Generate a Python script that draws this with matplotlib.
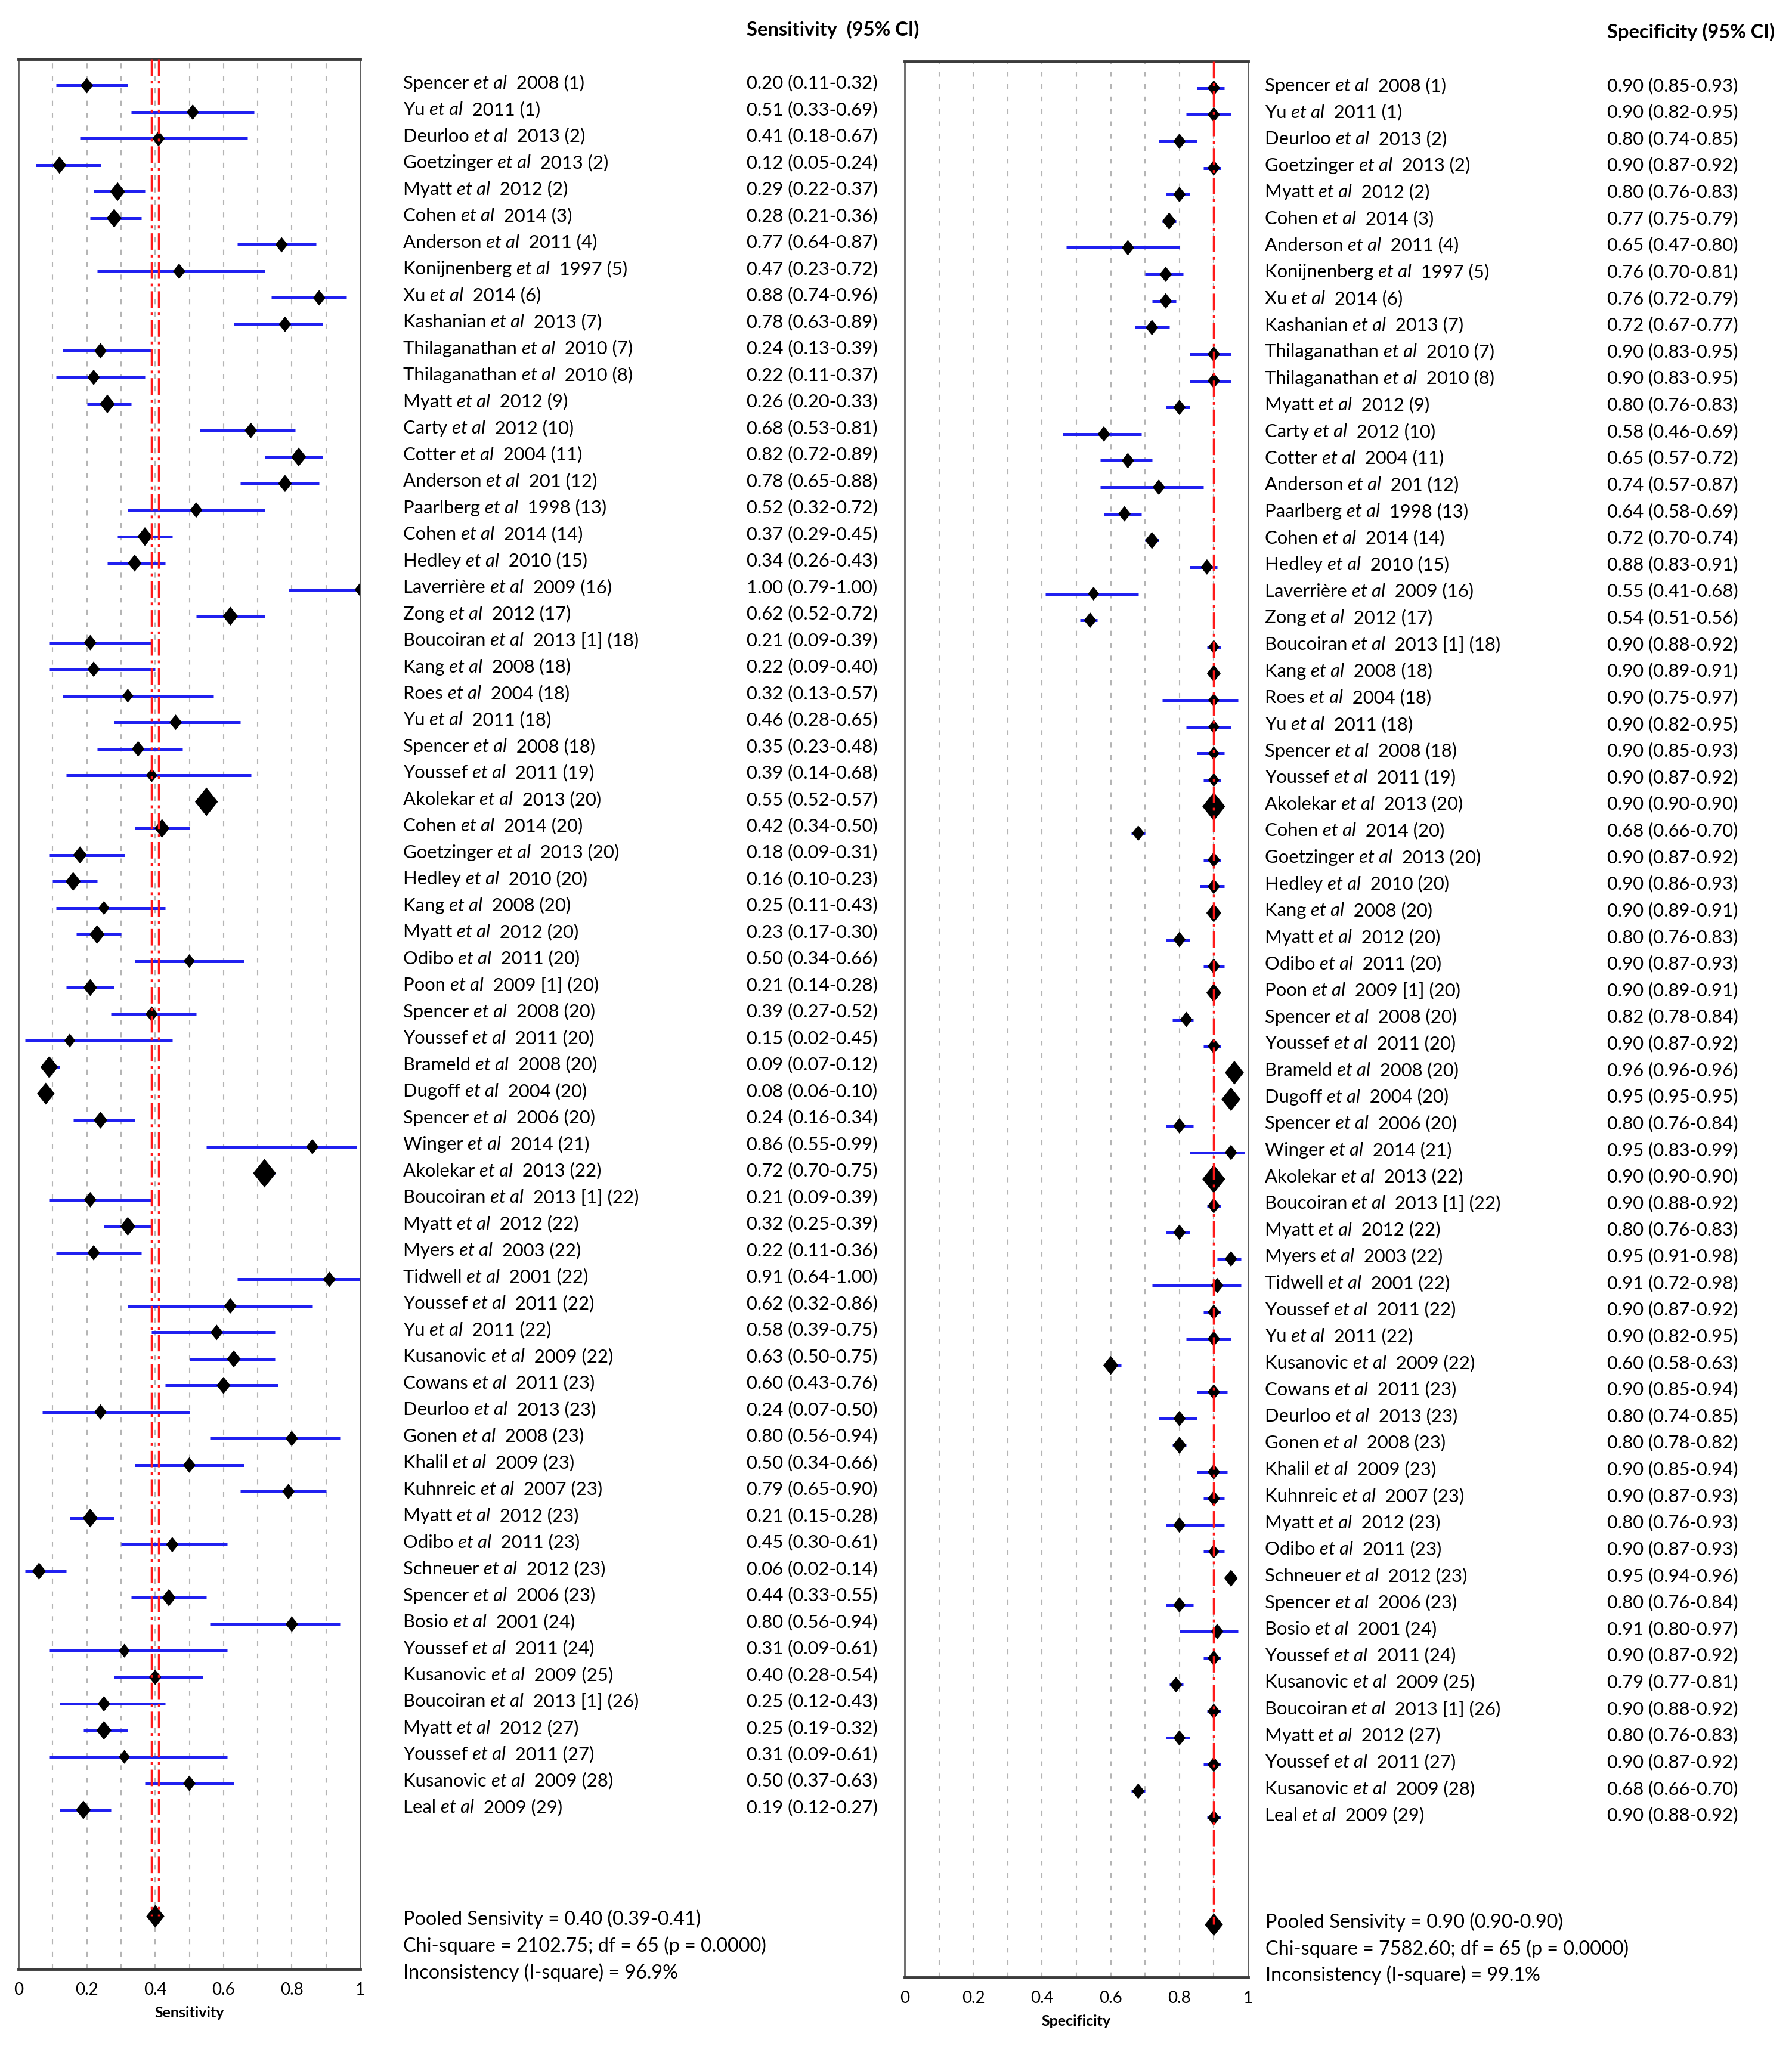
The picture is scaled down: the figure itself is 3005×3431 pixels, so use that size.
import numpy as np
import matplotlib
matplotlib.use("Agg")
import matplotlib.pyplot as plt
from matplotlib import transforms

plt.rcParams['font.family'] = ['Lato', 'DejaVu Sans']

# study labels: author (before "et al") and the rest (year, reference)
authors = ["Spencer", "Yu", "Deurloo", "Goetzinger", "Myatt", "Cohen", "Anderson", "Konijnenberg",
           "Xu", "Kashanian", "Thilaganathan", "Thilaganathan", "Myatt", "Carty", "Cotter", "Anderson",
           "Paarlberg", "Cohen", "Hedley", "Laverrière", "Zong", "Boucoiran", "Kang", "Roes", "Yu",
           "Spencer", "Youssef", "Akolekar", "Cohen", "Goetzinger", "Hedley", "Kang", "Myatt", "Odibo",
           "Poon", "Spencer", "Youssef", "Brameld", "Dugoff", "Spencer", "Winger", "Akolekar",
           "Boucoiran", "Myatt", "Myers", "Tidwell", "Youssef", "Yu", "Kusanovic", "Cowans", "Deurloo",
           "Gonen", "Khalil", "Kuhnreic", "Myatt", "Odibo", "Schneuer", "Spencer", "Bosio", "Youssef",
           "Kusanovic", "Boucoiran", "Myatt", "Youssef", "Kusanovic", "Leal"]
refs = ["2008 (1)", "2011 (1)", "2013 (2)", "2013 (2)", "2012 (2)", "2014 (3)", "2011 (4)", "1997 (5)",
        "2014 (6)", "2013 (7)", "2010 (7)", "2010 (8)", "2012 (9)", "2012 (10)", "2004 (11)", "201 (12)",
        "1998 (13)", "2014 (14)", "2010 (15)", "2009 (16)", "2012 (17)", "2013 [1] (18)", "2008 (18)",
        "2004 (18)", "2011 (18)", "2008 (18)", "2011 (19)", "2013 (20)", "2014 (20)", "2013 (20)",
        "2010 (20)", "2008 (20)", "2012 (20)", "2011 (20)", "2009 [1] (20)", "2008 (20)", "2011 (20)",
        "2008 (20)", "2004 (20)", "2006 (20)", "2014 (21)", "2013 (22)", "2013 [1] (22)", "2012 (22)",
        "2003 (22)", "2001 (22)", "2011 (22)", "2011 (22)", "2009 (22)", "2011 (23)", "2013 (23)",
        "2008 (23)", "2009 (23)", "2007 (23)", "2012 (23)", "2011 (23)", "2012 (23)", "2006 (23)",
        "2001 (24)", "2011 (24)", "2009 (25)", "2013 [1] (26)", "2012 (27)", "2011 (27)", "2009 (28)",
        "2009 (29)"]

sens = [0.20, 0.51, 0.41, 0.12, 0.29, 0.28, 0.77, 0.47, 0.88, 0.78, 0.24, 0.22, 0.26, 0.68, 0.82, 0.78,
        0.52, 0.37, 0.34, 1.00, 0.62, 0.21, 0.22, 0.32, 0.46, 0.35, 0.39, 0.55, 0.42, 0.18, 0.16, 0.25,
        0.23, 0.50, 0.21, 0.39, 0.15, 0.09, 0.08, 0.24, 0.86, 0.72, 0.21, 0.32, 0.22, 0.91, 0.62, 0.58,
        0.63, 0.60, 0.24, 0.80, 0.50, 0.79, 0.21, 0.45, 0.06, 0.44, 0.80, 0.31, 0.40, 0.25, 0.25, 0.31,
        0.50, 0.19]
sens_lo = [0.11, 0.33, 0.18, 0.05, 0.22, 0.21, 0.64, 0.23, 0.74, 0.63, 0.13, 0.11, 0.20, 0.53, 0.72, 0.65,
           0.32, 0.29, 0.26, 0.79, 0.52, 0.09, 0.09, 0.13, 0.28, 0.23, 0.14, 0.52, 0.34, 0.09, 0.10, 0.11,
           0.17, 0.34, 0.14, 0.27, 0.02, 0.07, 0.06, 0.16, 0.55, 0.70, 0.09, 0.25, 0.11, 0.64, 0.32, 0.39,
           0.50, 0.43, 0.07, 0.56, 0.34, 0.65, 0.15, 0.30, 0.02, 0.33, 0.56, 0.09, 0.28, 0.12, 0.19, 0.09,
           0.37, 0.12]
sens_hi = [0.32, 0.69, 0.67, 0.24, 0.37, 0.36, 0.87, 0.72, 0.96, 0.89, 0.39, 0.37, 0.33, 0.81, 0.89, 0.88,
           0.72, 0.45, 0.43, 1.00, 0.72, 0.39, 0.40, 0.57, 0.65, 0.48, 0.68, 0.57, 0.50, 0.31, 0.23, 0.43,
           0.30, 0.66, 0.28, 0.52, 0.45, 0.12, 0.10, 0.34, 0.99, 0.75, 0.39, 0.39, 0.36, 1.00, 0.86, 0.75,
           0.75, 0.76, 0.50, 0.94, 0.66, 0.90, 0.28, 0.61, 0.14, 0.55, 0.94, 0.61, 0.54, 0.43, 0.32, 0.61,
           0.63, 0.27]

spec = [0.90, 0.90, 0.80, 0.90, 0.80, 0.77, 0.65, 0.76, 0.76, 0.72, 0.90, 0.90, 0.80, 0.58, 0.65, 0.74,
        0.64, 0.72, 0.88, 0.55, 0.54, 0.90, 0.90, 0.90, 0.90, 0.90, 0.90, 0.90, 0.68, 0.90, 0.90, 0.90,
        0.80, 0.90, 0.90, 0.82, 0.90, 0.96, 0.95, 0.80, 0.95, 0.90, 0.90, 0.80, 0.95, 0.91, 0.90, 0.90,
        0.60, 0.90, 0.80, 0.80, 0.90, 0.90, 0.80, 0.90, 0.95, 0.80, 0.91, 0.90, 0.79, 0.90, 0.80, 0.90,
        0.68, 0.90]
spec_lo = [0.85, 0.82, 0.74, 0.87, 0.76, 0.75, 0.47, 0.70, 0.72, 0.67, 0.83, 0.83, 0.76, 0.46, 0.57, 0.57,
           0.58, 0.70, 0.83, 0.41, 0.51, 0.88, 0.89, 0.75, 0.82, 0.85, 0.87, 0.90, 0.66, 0.87, 0.86, 0.89,
           0.76, 0.87, 0.89, 0.78, 0.87, 0.96, 0.95, 0.76, 0.83, 0.90, 0.88, 0.76, 0.91, 0.72, 0.87, 0.82,
           0.58, 0.85, 0.74, 0.78, 0.85, 0.87, 0.76, 0.87, 0.94, 0.76, 0.80, 0.87, 0.77, 0.88, 0.76, 0.87,
           0.66, 0.88]
spec_hi = [0.93, 0.95, 0.85, 0.92, 0.83, 0.79, 0.80, 0.81, 0.79, 0.77, 0.95, 0.95, 0.83, 0.69, 0.72, 0.87,
           0.69, 0.74, 0.91, 0.68, 0.56, 0.92, 0.91, 0.97, 0.95, 0.93, 0.92, 0.90, 0.70, 0.92, 0.93, 0.91,
           0.83, 0.93, 0.91, 0.84, 0.92, 0.96, 0.95, 0.84, 0.99, 0.90, 0.92, 0.83, 0.98, 0.98, 0.92, 0.95,
           0.63, 0.94, 0.85, 0.82, 0.94, 0.93, 0.93, 0.93, 0.96, 0.84, 0.97, 0.92, 0.81, 0.92, 0.83, 0.92,
           0.70, 0.92]

# relative study weights (marker size)
sens_w = [2, 2, 2, 2.5, 3, 3, 2, 2, 2, 2, 2, 2, 3, 2, 3, 2.5, 2, 3, 2.5, 1.5, 3, 2, 2, 1.5, 2, 2, 1.5, 6,
          3, 2.5, 3, 1.5, 3, 1.5, 2.5, 2, 1.5, 4, 4, 2.5, 2, 6, 2, 3, 2, 2, 2, 2, 2.5, 2.5, 2, 2, 2, 2, 3,
          2, 2.5, 2.5, 2, 1.5, 2, 2, 3, 1.5, 2, 3]
spec_w = [2, 2, 2, 2, 2, 2.5, 2, 2, 2, 2, 2, 2, 2, 2, 2, 2, 2, 2.5, 2, 1.5, 2, 1.5, 2.5, 1.5, 1.5, 1.5,
          1.5, 6, 2, 2, 2, 3, 2, 2, 3, 2, 2, 4.5, 4.5, 2, 2, 6, 2, 2, 2, 2, 2, 2, 3, 2, 2, 2.5, 2, 2, 2, 1.5,
          2.5, 2, 2, 2, 2, 2, 2, 2, 2, 2]

sens_pooled = (0.40, 0.39, 0.41)
spec_pooled = (0.90, 0.90, 0.90)
sens_stats = ["Chi-square = 2102.75; df = 65 (p = 0.0000)", "Inconsistency (I-square) = 96.9%"]
spec_stats = ["Chi-square = 7582.60; df = 65 (p = 0.0000)", "Inconsistency (I-square) = 99.1%"]

FS = 22.3
W, H = 3005, 3431
fig = plt.figure(figsize=(W / 100, H / 100), dpi=100)
renderer = fig.canvas.get_renderer()

ax1 = fig.add_axes([31 / W, 1 - 3302 / H, 573 / W, 3203 / H])
ax2 = fig.add_axes([1517 / W, 1 - 3316 / H, 576 / W, 3213 / H])

rows = np.arange(len(authors))
pooled_row = 69
diamond = [(0, 1), (0.8, 0), (0, -1), (-0.8, 0), (0, 1)]


def panel(ax, est, lo, hi, w, pooled, red_x, xlabel):
    for g in np.arange(0.1, 0.95, 0.1):
        ax.axvline(g, color='#b5b5b5', lw=1.5, ls=(0, (4, 6)), zorder=1)
    ax.hlines(rows, lo, hi, color='#2020f0', lw=3.6, zorder=2)
    ms = 15 + 5.5 * np.array(w)  # marker height in px
    ax.scatter(est, rows, marker=diamond, s=(ms * 0.72) ** 2, color='black', lw=0, zorder=3)
    ax.scatter([pooled[0]], [pooled_row], marker=diamond, s=(38 * 0.72) ** 2, color='black', lw=0, zorder=3)
    ax.vlines(red_x, -1, pooled_row, colors='#ff1a1a', lw=2.5, ls=(0, (8, 2.3, 1.4, 2.3)), zorder=4)
    ax.set_xlim(0, 1)
    ax.set_ylim(71, -1)
    ax.set_yticks([])
    ax.set_xticks([0, 0.2, 0.4, 0.6, 0.8, 1.0])
    ax.set_xticklabels(['0', '0.2', '0.4', '0.6', '0.8', '1'])
    ax.tick_params(axis='x', length=0, pad=16, labelsize=20)
    ax.set_xlabel(xlabel, fontsize=18, fontweight='bold', labelpad=10)
    for s in ['top', 'bottom']:
        ax.spines[s].set_linewidth(3.5)
        ax.spines[s].set_color('#3c3c3c')
    for s in ['left', 'right']:
        ax.spines[s].set_linewidth(2)
        ax.spines[s].set_color('#606060')


def label_rows(ax, xname, xval, est, lo, hi):
    trans = transforms.blended_transform_factory(fig.transFigure, ax.transData)
    for i in rows:
        y = rows[i] + 0.12
        x = xname
        for txt, st in [(authors[i] + " ", 'normal'), ("et al", 'italic'), ("  " + refs[i], 'normal')]:
            t = fig.text(x, y, txt, transform=trans, fontsize=FS, style=st, va='baseline', ha='left')
            x += t.get_window_extent(renderer).width / W
        fig.text(xval, y, "%.2f (%.2f-%.2f)" % (est[i], lo[i], hi[i]), transform=trans,
                 fontsize=FS, va='baseline', ha='left')


panel(ax1, sens, sens_lo, sens_hi, sens_w, sens_pooled, [sens_pooled[1], sens_pooled[2]], 'Sensitivity')
panel(ax2, spec, spec_lo, spec_hi, spec_w, spec_pooled, [spec_pooled[0]], 'Specificity')

label_rows(ax1, 676 / W, 1252 / W, sens, sens_lo, sens_hi)
label_rows(ax2, 2121 / W, 2695 / W, spec, spec_lo, spec_hi)

fig.text(1252 / W, 1 - 60 / H, "Sensitivity  (95% CI)", fontsize=23.5, fontweight='bold', va='baseline')
fig.text(2695 / W, 1 - 64 / H, "Specificity (95% CI)", fontsize=23.5, fontweight='bold', va='baseline')

for j, line in enumerate(["Pooled Sensivity = %.2f (%.2f-%.2f)" % sens_pooled] + sens_stats):
    fig.text(676 / W, 1 - (3228 + 45 * j) / H, line, fontsize=23.3, va='baseline')
for j, line in enumerate(["Pooled Sensivity = %.2f (%.2f-%.2f)" % spec_pooled] + spec_stats):
    fig.text(2122 / W, 1 - (3233 + 44.5 * j) / H, line, fontsize=23.3, va='baseline')

fig.savefig("out.png", dpi=100, facecolor='white')
